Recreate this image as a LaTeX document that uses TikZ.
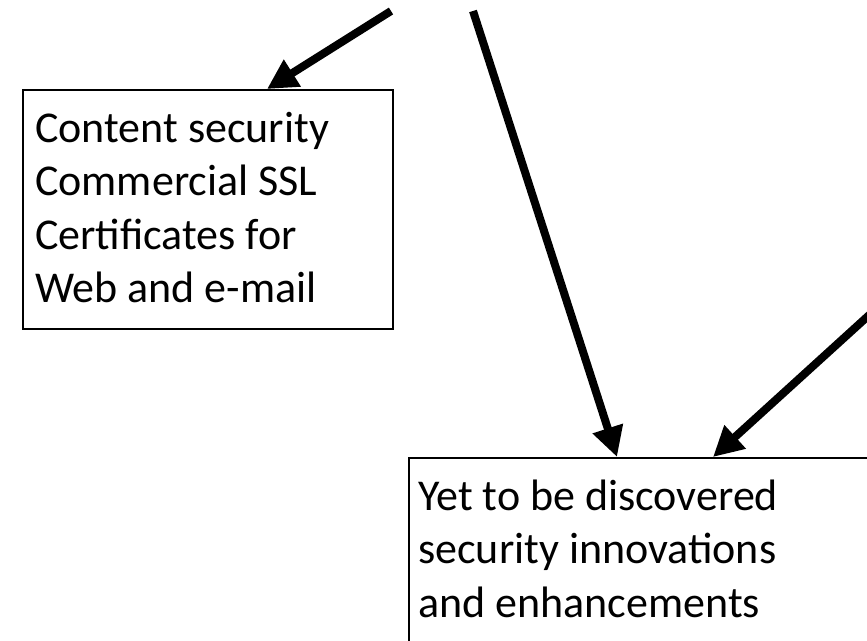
\documentclass[tikz,border=0pt]{standalone}
\usepackage{fontspec}
\setmainfont{Carlito}
\usetikzlibrary{arrows.meta}
\begin{document}
\begin{tikzpicture}[x=1pt,y=-1pt,
  frame/.style={draw=black, line width=2pt, inner sep=0pt, anchor=north west},
  txt/.style={anchor=north west, align=left, inner sep=0pt,
              font=\fontsize{44}{53.5}\selectfont},
  bigarrow/.style={line width=8pt, -{Triangle[length=30pt,width=30pt]}}]
\useasboundingbox (0,0) rectangle (867,640);

% boxes
\node[frame, minimum width=370pt, minimum height=239pt] (box1) at (22,89) {};
\node[frame, minimum width=500pt, minimum height=240pt] (box2) at (408,457) {};

% box texts
\node[txt] (t1) at (35,104.55) {\strut Content security\\Commercial SSL\\Certificates for\\Web and e-mail};
\node[txt] (t2) at (418,472.55) {\strut Yet to be discovered\\security innovations\\and enhancements};

% arrows coming in from above and from the right
\coordinate (a1) at (391,11);
\coordinate (a2) at (473,11);
\coordinate (a3) at (900,287);
\draw[bigarrow] (a1) -- (267,0 |- box1.north);
\draw[bigarrow] (a2) -- (617,0 |- box2.north);
\draw[bigarrow] (a3) -- (713,0 |- box2.north);
\end{tikzpicture}
\end{document}
